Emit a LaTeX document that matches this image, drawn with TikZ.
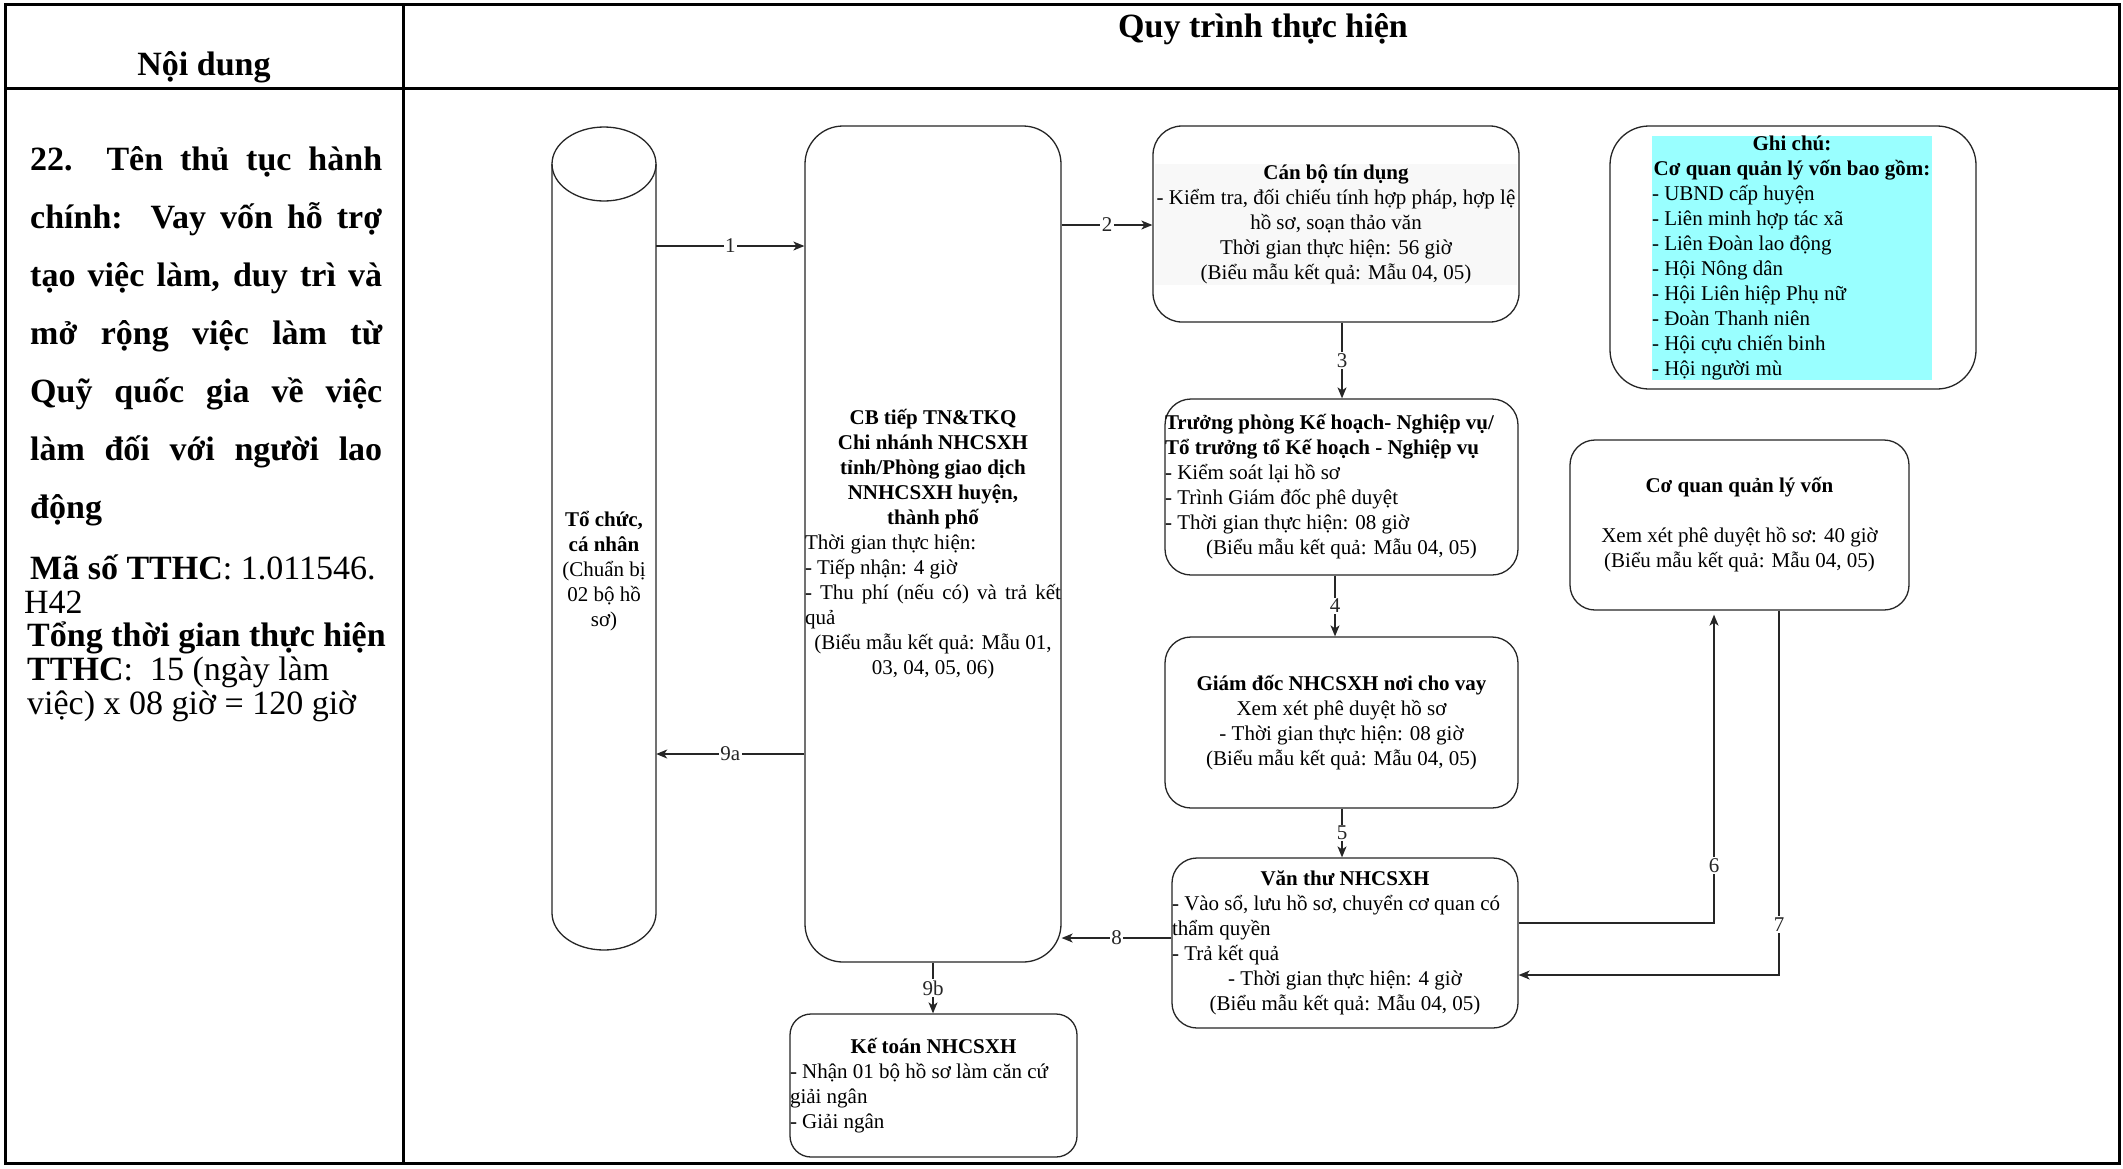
\documentclass[tikz,border=0pt]{standalone}
\usepackage{fontspec}
\setmainfont{Liberation Serif}
\usetikzlibrary{arrows.meta}
\definecolor{cyanbg}{HTML}{99FFFF}
\definecolor{graybg}{HTML}{F8F8F8}
\newcommand\dfont{\fontsize{21}{25}\selectfont}
\newcommand\bigfont{\fontsize{34}{40}\selectfont}
\newcommand\lblfont{\fontsize{21}{24}\selectfont}
\begin{document}
\begin{tikzpicture}[x=1pt,y=-1pt,
  tbl/.style={line width=3pt, draw=black},
  box/.style={draw=black!85, line width=1.3pt, inner sep=0pt, font=\dfont},
  cylline/.style={draw=black!85, line width=1.3pt},
  arr/.style={draw=black!85, line width=1.2pt, -{Stealth[length=11pt,width=9pt,inset=3pt]}},
  lbl/.style={fill=white, inner sep=1.5pt, font=\lblfont, text=black!85},
  hdr/.style={font=\bigfont\bfseries, inner sep=0pt, anchor=base},
  lefttxt/.style={font=\bigfont, inner sep=0pt, anchor=base west}]

\useasboundingbox (0,0) rectangle (2123,1168);
\fill[white] (0,0) rectangle (2123,1168);

% table
\draw[tbl] (5,4) rectangle (2119,1163);
\draw[tbl] (403,4) -- (403,1163);
\draw[tbl] (5,88) -- (2119,88);

\node[hdr] (hnd) at (204,75) {Nội dung};
\node[hdr] (hqt) at (1263,37) {Quy trình thực hiện};

% left column text
\node[lefttxt, font=\bigfont\bfseries] (t1) at (30,170) {\makebox[352pt][s]{22.\ \ Tên thủ tục hành}};
\node[lefttxt, font=\bigfont\bfseries] (t2) at (30,228) {\makebox[352pt][s]{chính:\ \ Vay vốn hỗ trợ}};
\node[lefttxt, font=\bigfont\bfseries] (t3) at (30,286) {\makebox[352pt][s]{tạo việc làm, duy trì và}};
\node[lefttxt, font=\bigfont\bfseries] (t4) at (30,344) {\makebox[352pt][s]{mở rộng việc làm từ}};
\node[lefttxt, font=\bigfont\bfseries] (t5) at (30,402) {\makebox[352pt][s]{Quỹ quốc gia về việc}};
\node[lefttxt, font=\bigfont\bfseries] (t6) at (30,460) {\makebox[352pt][s]{làm đối với người lao}};
\node[lefttxt, font=\bigfont\bfseries] (t7) at (30,518) {động};
\node[lefttxt] (t8) at (30,579) {\textbf{Mã số TTHC}: 1.011546.};
\node[lefttxt] (t9) at (24,613) {H42};
\node[lefttxt] (t10) at (27,646) {\textbf{Tổng thời gian thực hiện}};
\node[lefttxt] (t11) at (27,680) {\textbf{TTHC}:\ \ 15 (ngày làm};
\node[lefttxt] (t12) at (27,714) {việc) x 08 giờ = 120 giờ};

% cylinder
\node[minimum width=104pt, minimum height=823pt, inner sep=0pt] (cyl) at (604,538.5) {};
\draw[cylline] (552,164) -- (552,913) arc[start angle=180, end angle=360, x radius=52pt, y radius=37pt] -- (656,164);
\draw[cylline] (604,164) ellipse [x radius=52pt, y radius=37pt];
\node[font=\dfont, inner sep=0pt] (cyltxt) at (604,571) {\parbox{104pt}{\dfont\centering
  \textbf{Tổ chức,}\\ \textbf{cá nhân}\\ (Chuẩn bị\\ 02 bộ hồ\\ sơ)\par}};

% CB box
\node[box, rounded corners=38pt, minimum width=256pt, minimum height=836pt] (cb) at (933,544) {\parbox{256pt}{\dfont
  {\centering\bfseries CB tiếp TN\&TKQ\\ Chi nhánh NHCSXH\\ tỉnh/Phòng giao dịch\\ NNHCSXH huyện,\\ thành phố\par}
  {\raggedright Thời gian thực hiện:\\ - Tiếp nhận: 4 giờ\\ \makebox[256pt][s]{- Thu phí (nếu có) và trả kết}\\ quả\par}
  {\centering (Biểu mẫu kết quả: Mẫu 01,\\ 03, 04, 05, 06)\par}}};

% Can bo tin dung
\node[fill=graybg, inner sep=0pt, inner ysep=1pt] (canbotxt) at (1336,224.5) {\parbox{362pt}{\dfont\centering
  \textbf{Cán bộ tín dụng}\\ - Kiểm tra, đối chiếu tính hợp pháp, hợp lệ\\ hồ sơ, soạn thảo văn\\ Thời gian thực hiện: 56 giờ\\ (Biểu mẫu kết quả: Mẫu 04, 05)\par}};
\node[box, rounded corners=29pt, minimum width=366pt, minimum height=196pt] (canbo) at (1336,224) {};

% Truong phong
\node[box, rounded corners=26pt, minimum width=353pt, minimum height=176pt] (truong) at (1341.5,487) {\parbox{353pt}{\dfont
  {\raggedright\textbf{Trưởng phòng Kế hoạch- Nghiệp vụ/}\\ \textbf{Tổ trưởng tổ Kế hoạch - Nghiệp vụ}\\ - Kiểm soát lại hồ sơ\\ - Trình Giám đốc phê duyệt\\ - Thời gian thực hiện: 08 giờ\par}
  {\centering (Biểu mẫu kết quả: Mẫu 04, 05)\par}}};

% Giam doc
\node[box, rounded corners=26pt, minimum width=353pt, minimum height=171pt] (giamdoc) at (1341.5,722.5) {\parbox{353pt}{\dfont\centering
  \textbf{Giám đốc NHCSXH nơi cho vay}\\ Xem xét phê duyệt hồ sơ\\ - Thời gian thực hiện: 08 giờ\\ (Biểu mẫu kết quả: Mẫu 04, 05)\par}};

% Van thu
\node[box, rounded corners=25pt, minimum width=346pt, minimum height=170pt] (vanthu) at (1345,943) {\parbox{346pt}{\dfont
  {\centering\bfseries Văn thư NHCSXH\par}
  {\raggedright - Vào sổ, lưu hồ sơ, chuyển cơ quan có\\ thẩm quyền\\ - Trả kết quả\par}
  {\centering - Thời gian thực hiện: 4 giờ\\ (Biểu mẫu kết quả: Mẫu 04, 05)\par}}};

% Ke toan
\node[box, rounded corners=21pt, minimum width=287pt, minimum height=143pt] (ketoan) at (933.5,1085.5) {\parbox{287pt}{\dfont
  {\centering\bfseries Kế toán NHCSXH\par}
  {\raggedright - Nhận 01 bộ hồ sơ làm căn cứ\\ giải ngân\\ - Giải ngân\par}}};

% Co quan quan ly von
\node[box, rounded corners=25pt, minimum width=339pt, minimum height=170pt] (coquan) at (1739.5,525) {\parbox{339pt}{\dfont\centering
  \textbf{Cơ quan quản lý vốn}\\ \mbox{}\\ Xem xét phê duyệt hồ sơ: 40 giờ\\ (Biểu mẫu kết quả: Mẫu 04, 05)\par}};

% Ghi chu
\node[fill=cyanbg, inner sep=0pt] (ghichutxt) at (1792,258) {\parbox{280pt}{\dfont
  {\centering\bfseries Ghi chú:\\ Cơ quan quản lý vốn bao gồm:\par}
  {\raggedright - UBND cấp huyện\\ - Liên minh hợp tác xã\\ - Liên Đoàn lao động\\ - Hội Nông dân\\ - Hội Liên hiệp Phụ nữ\\ - Đoàn Thanh niên\\ - Hội cựu chiến binh\\ - Hội người mù\par}}};
\node[box, rounded corners=39pt, minimum width=366pt, minimum height=263pt] (ghichu) at (1793,257.5) {};

% helper coordinates
\coordinate (h1) at (0,246);
\coordinate (h9a) at (0,754);
\coordinate (h2) at (0,225);
\coordinate (h8) at (0,938);
\coordinate (h6) at (0,923);
\coordinate (h7) at (0,975);
\coordinate (v3) at (1342,0);
\coordinate (v4) at (1335,0);
\coordinate (v6) at (1714,0);
\coordinate (v7) at (1779,0);

% connectors
\draw[arr] (cyl.east |- h1) -- node[lbl] {1} (cb.west |- h1);
\draw[arr] (cb.west |- h9a) -- node[lbl] {9a} (cyl.east |- h9a);
\draw[arr] (cb.east |- h2) -- node[lbl] {2} (canbo.west |- h2);
\draw[arr] (v3 |- canbo.south) -- node[lbl] {3} (v3 |- truong.north);
\draw[arr] (v4 |- truong.south) -- node[lbl] {4} (v4 |- giamdoc.north);
\draw[arr] (v3 |- giamdoc.south) -- node[lbl] {5} (v3 |- vanthu.north);
\draw[arr] (vanthu.west |- h8) -- node[lbl] {8} (cb.east |- h8);
\draw[arr] (cb.south) -- node[lbl] {9b} (cb.south |- ketoan.north);
\draw[arr, shorten >=4pt] (vanthu.east |- h6) -| node[lbl, pos=0.5925] {6} (v6 |- coquan.south);
\draw[arr] (v7 |- coquan.south) |- node[lbl, pos=0.431] {7} (vanthu.east |- h7);

\end{tikzpicture}
\end{document}
